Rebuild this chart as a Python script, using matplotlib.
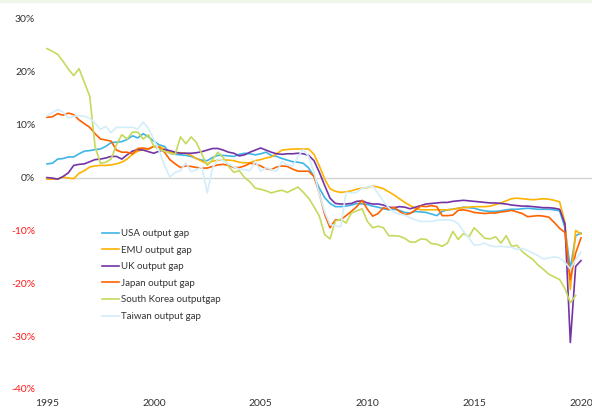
import numpy as np
import matplotlib
matplotlib.use("Agg")
import matplotlib.pyplot as plt
from matplotlib.patches import Rectangle

# Quarterly output gap estimates (%), 1995Q1 onwards as plotted
usa = [2.6, 2.7, 3.5, 3.6, 3.9, 3.9, 4.5, 5.0, 5.1, 5.3,
       5.4, 5.9, 6.6, 6.7, 6.8, 7.2, 7.9, 7.5, 8.3, 7.7,
       6.9, 6.2, 5.9, 4.6, 4.4, 4.3, 4.2, 4.0, 3.6, 3.3,
       3.2, 3.8, 4.2, 4.2, 4.1, 4.0, 4.4, 4.6, 4.5, 4.3,
       4.5, 4.8, 4.2, 4.0, 3.6, 3.3, 3.0, 2.9, 2.7, 1.8,
       0.2, -2.0, -3.8, -4.9, -5.5, -5.5, -5.4, -5.2, -4.9, -5.0,
       -5.1, -5.4, -5.6, -5.9, -6.1, -6.0, -6.2, -6.6, -6.7, -6.4,
       -6.5, -6.6, -6.9, -7.2, -6.4, -6.1, -6.0, -5.8, -5.6, -5.7,
       -5.8, -6.1, -6.3, -6.4, -6.4, -6.3, -6.1, -6.0, -6.0, -5.9,
       -5.8, -5.9, -6.0, -6.0, -6.0, -6.1, -6.3, -9.5, -17.3, -11.0,
       -10.5]
emu = [-0.3, -0.3, -0.3, 0.1, -0.1, -0.2, 0.8, 1.3, 2.0, 2.2,
       2.3, 2.3, 2.4, 2.6, 2.9, 3.5, 4.4, 5.0, 5.3, 5.4,
       5.9, 5.9, 5.4, 4.8, 4.7, 4.7, 4.6, 4.2, 3.6, 3.1,
       2.6, 3.1, 3.3, 3.3, 3.3, 3.2, 2.9, 2.8, 2.8, 3.2,
       3.4, 3.7, 3.9, 4.5, 5.2, 5.3, 5.4, 5.4, 5.4, 5.4,
       4.4, 2.2, -0.3, -2.1, -2.6, -2.8, -2.7, -2.5, -2.2, -2.0,
       -1.9, -1.6, -1.8, -2.1, -2.7, -3.3, -4.0, -4.7, -5.3, -5.8,
       -6.1, -6.1, -6.1, -6.1, -6.1, -6.1, -6.0, -5.8, -5.7, -5.6,
       -5.5, -5.5, -5.5, -5.4, -5.1, -4.8, -4.4, -4.0, -3.9, -4.0,
       -4.1, -4.2, -4.1, -4.0, -4.1, -4.3, -4.6, -8.5, -21.2, -10.0,
       -10.7]
uk = [0.0, -0.1, -0.3, 0.2, 0.9, 2.3, 2.5, 2.6, 3.0, 3.4,
      3.5, 3.7, 4.0, 4.0, 3.5, 4.3, 5.0, 5.3, 5.2, 4.9,
      4.6, 5.0, 5.3, 5.1, 4.8, 4.6, 4.6, 4.6, 4.7, 4.9,
      5.2, 5.5, 5.5, 5.2, 4.8, 4.6, 4.1, 4.3, 4.8, 5.2,
      5.6, 5.2, 4.8, 4.5, 4.4, 4.5, 4.5, 4.6, 4.5, 4.2,
      3.2, 1.0, -1.5, -3.9, -4.9, -5.0, -5.0, -4.9, -4.5, -4.4,
      -4.8, -5.0, -5.0, -5.2, -5.6, -5.7, -5.5, -5.6, -5.9, -5.6,
      -5.3, -5.0, -4.9, -4.8, -4.7, -4.7, -4.5, -4.4, -4.3, -4.4,
      -4.5, -4.6, -4.7, -4.8, -4.8, -4.9, -5.0, -5.2, -5.3, -5.4,
      -5.4, -5.5, -5.6, -5.7, -5.7, -5.8, -6.0, -8.8, -31.2, -16.8,
      -15.7]
japan = [11.4, 11.5, 12.1, 11.8, 12.2, 11.9, 10.9, 10.2, 9.5, 8.3,
         7.3, 7.1, 6.9, 5.2, 4.8, 4.8, 4.5, 5.5, 5.6, 5.4,
         5.9, 5.7, 4.8, 3.4, 2.6, 1.9, 2.2, 2.1, 1.9, 1.8,
         1.8, 2.1, 2.4, 2.5, 2.3, 1.9, 1.9, 2.2, 2.7, 2.6,
         2.2, 1.7, 1.5, 2.0, 2.2, 2.1, 1.6, 1.2, 1.2, 1.2,
         0.2, -3.0, -7.0, -9.5, -8.0, -8.0, -7.2, -6.4, -5.5, -4.3,
         -6.0, -7.3, -6.8, -5.7, -6.0, -5.6, -6.4, -7.0, -6.8, -6.1,
         -5.4, -5.5, -5.3, -5.5, -7.2, -7.2, -7.1, -6.2, -6.1, -6.3,
         -6.6, -6.7, -6.8, -6.7, -6.7, -6.5, -6.4, -6.2, -6.5, -6.8,
         -7.4, -7.3, -7.2, -7.3, -7.5, -8.5, -9.6, -10.4, -19.3, -14.3,
         -11.4]
korea = [24.4, 23.9, 23.3, 22.0, 20.5, 19.3, 20.6, 18.0, 15.4, 5.9,
         2.7, 2.9, 3.5, 6.2, 8.1, 7.3, 8.6, 8.6, 7.3, 8.1,
         5.9, 5.3, 5.0, 4.6, 4.4, 7.7, 6.4, 7.7, 6.6, 4.4,
         2.3, 3.4, 4.8, 3.8, 2.1, 1.0, 1.3, 0.0, -0.8, -2.0,
         -2.2, -2.5, -2.9, -2.6, -2.4, -2.8, -2.3, -1.8, -2.8, -3.9,
         -5.5, -7.3, -10.8, -11.6, -8.2, -7.9, -8.6, -6.7, -6.3, -5.9,
         -8.3, -9.5, -9.2, -9.5, -11.0, -11.0, -11.1, -11.5, -12.2, -12.2,
         -11.6, -11.7, -12.5, -12.6, -13.0, -12.4, -10.2, -11.7, -10.6, -11.2,
         -9.5, -10.5, -11.5, -11.6, -11.2, -12.4, -11.0, -13.0, -12.8, -14.0,
         -14.8, -15.5, -16.6, -17.4, -18.3, -18.8, -19.3, -21.0, -23.7, -22.3,
         np.nan]
taiwan = [11.7, 12.3, 12.9, 12.4, 11.3, 11.6, 11.7, 11.6, 11.2, 10.3,
          9.1, 9.7, 8.5, 9.5, 9.5, 9.5, 9.5, 9.2, 10.5, 9.3,
          7.2, 5.0, 2.3, 0.1, 1.0, 1.3, 2.8, 1.1, 1.5, 2.0,
          -2.9, 1.8, 3.5, 3.2, 2.6, 2.0, 1.6, 1.5, 1.3, 3.1,
          1.2, 1.9, 1.5, 1.2, 3.0, 2.4, 2.2, 4.0, 5.3, 4.0,
          1.0, -3.2, -6.5, -8.9, -9.1, -9.3, -2.8, -2.9, -2.8, -2.0,
          -1.8, -1.6, -3.0, -4.5, -5.7, -6.6, -6.9, -7.1, -7.6, -8.0,
          -8.3, -8.3, -8.3, -8.1, -8.0, -8.0, -8.1, -8.7, -10.2, -11.4,
          -12.8, -12.7, -12.4, -12.9, -13.1, -13.0, -13.1, -13.2, -13.6, -13.4,
          -13.8, -14.3, -14.8, -15.4, -15.2, -15.0, -15.2, -16.0, -17.3, -15.5,
          -14.1]

series = ["USA output gap", "EMU output gap", "UK output gap",
          "Japan output gap", "South Korea outputgap", "Taiwan output gap"]
colors = ["#3db5e8", "#ffb200", "#7434a6", "#ff6200", "#c5da5c", "#d2eefb"]
values = [usa, emu, uk, japan, korea, taiwan]

years = 1995 + 0.25 * np.arange(len(usa))
year_ticks = [1995, 2000, 2005, 2010, 2015, 2020]
pct_ticks = [30, 20, 10, 0, -10, -20, -30, -40]

plt.rcParams['font.family'] = ['Lato', 'DejaVu Sans']

fig = plt.figure(figsize=(5.92, 4.08), dpi=100)
ax = fig.add_axes([45 / 592, 19 / 408, 547 / 592, 370 / 408])

# thin pale band at the very top
fig.patches.append(Rectangle((0, 1 - 3 / 408), 1, 3 / 408, transform=fig.transFigure,
                             facecolor="#eef6ea", edgecolor="none"))

ax.axhline(0, color="#d4d4d4", lw=1.0, zorder=1)
for name, col, vals in zip(series, colors, values):
    ax.plot(years, vals, color=col, lw=1.2, label=name, zorder=2)

ax.set_xlim(1994.906, 2020.515)
ax.set_ylim(-40, 30)
ax.set_xticks(year_ticks)
ax.set_xticklabels([str(y) for y in year_ticks])
ax.set_yticks(pct_ticks)
ax.set_yticklabels([f"{p}%" for p in pct_ticks])
for lab, p in zip(ax.get_yticklabels(), pct_ticks):
    lab.set_color("#ff1a1a" if p < 0 else "#333333")
for lab in ax.get_xticklabels():
    lab.set_color("#333333")
ax.tick_params(axis="both", length=0, labelsize=7.5, pad=7)
for s in ax.spines.values():
    s.set_visible(False)

leg = ax.legend(loc="upper left", bbox_to_anchor=(102 / 592, 1 - 229 / 408),
                bbox_transform=fig.transFigure, frameon=False, fontsize=7,
                borderpad=0, borderaxespad=0, handlelength=1.75,
                handletextpad=0.25, labelspacing=0.78)
for t in leg.get_texts():
    t.set_color("#333333")

fig.savefig("out.png", dpi=100)
